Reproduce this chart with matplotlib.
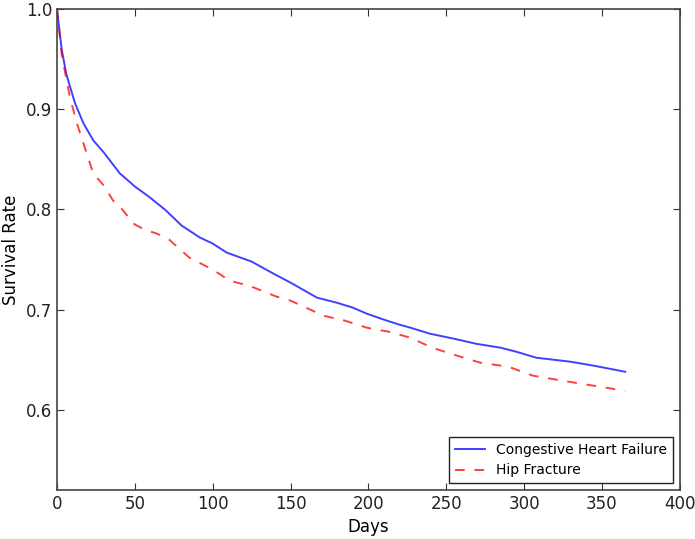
import matplotlib
matplotlib.use("Agg")
import matplotlib.pyplot as plt

# days and survival rates
chf_days = [0, 3, 6, 11.6, 17, 23.3, 30, 40.4, 50, 59.7, 70, 80, 91.8, 100, 109, 125, 139,
            150, 167, 179.6, 190, 199, 210, 220, 227, 239.5, 255, 269, 285, 295, 308, 330, 345, 365]
chf_rate = [1.0, 0.96, 0.935, 0.906, 0.886, 0.869, 0.857, 0.836, 0.823, 0.812, 0.799, 0.784, 0.772,
            0.766, 0.757, 0.748, 0.736, 0.727, 0.712, 0.707, 0.702, 0.696, 0.690, 0.685, 0.682,
            0.676, 0.671, 0.666, 0.662, 0.658, 0.652, 0.648, 0.644, 0.638]

hip_days = [0, 3, 8.3, 13, 17, 23.3, 30, 36, 42, 49, 56, 64, 72, 85, 100, 111, 125, 141,
            150, 160, 171, 185, 199, 213, 227, 241, 255, 272, 290, 306, 325, 345, 365]
hip_rate = [1.0, 0.955, 0.912, 0.885, 0.866, 0.836, 0.824, 0.809, 0.800, 0.786, 0.780, 0.776,
            0.770, 0.752, 0.740, 0.729, 0.723, 0.713, 0.709, 0.702, 0.694, 0.689, 0.682, 0.678,
            0.672, 0.662, 0.655, 0.647, 0.643, 0.634, 0.629, 0.624, 0.619]

plt.rcParams["font.family"] = "DejaVu Sans"
plt.rcParams["xtick.direction"] = "in"
plt.rcParams["ytick.direction"] = "in"
plt.rcParams["xtick.top"] = True
plt.rcParams["ytick.right"] = True

fig = plt.figure(figsize=(6.95, 5.39), dpi=100)
ax = fig.add_axes([0.082, 0.091, 0.896, 0.892])

ax.plot(chf_days, chf_rate, color="#0000ff", alpha=0.75, lw=1.4, label="Congestive Heart Failure")
ax.plot(hip_days, hip_rate, color="#ff0000", alpha=0.75, lw=1.4, ls="--", dashes=(5, 5),
        label="Hip Fracture")

ax.set_xlim(0, 400)
ax.set_ylim(0.52, 1.0)
ax.set_yticks([0.6, 0.7, 0.8, 0.9, 1.0])
ax.set_xlabel("Days", fontsize=12)
ax.set_ylabel("Survival Rate", fontsize=12)
ax.tick_params(labelsize=12, length=5, width=0.8, colors="#333333", labelcolor="#222222")
for s in ax.spines.values():
    s.set_color("#444444")
    s.set_linewidth(1.2)

leg = ax.legend(loc="lower right", fontsize=10, fancybox=False, framealpha=1,
                edgecolor="#222222", borderpad=0.4, handlelength=2.2)
leg.get_frame().set_linewidth(1.0)

fig.savefig("out.png", dpi=100)
